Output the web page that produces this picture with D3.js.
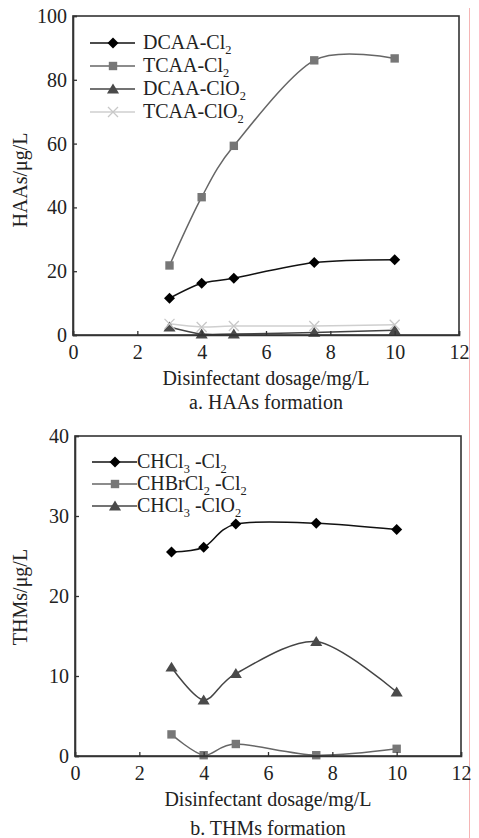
<!DOCTYPE html>
<html>
<head>
<meta charset="utf-8">
<script src="https://cdn.jsdelivr.net/npm/d3@7"></script>
<style>
  body { margin: 0; background: #fff; }
  svg { display: block; font-family: "Liberation Serif", "DejaVu Serif", serif; }
</style>
</head>
<body>
<svg id="chart" width="479" height="838"></svg>
<script>
// data
var dosage = [3, 4, 5, 7.5, 10];
var xTicks = [0, 2, 4, 6, 8, 10, 12];
var haaTicks = [0, 20, 40, 60, 80, 100];
var thmTicks = [0, 10, 20, 30, 40];

var dcaaCl2 = [11.5, 16.2, 17.8, 22.7, 23.6];
var tcaaCl2 = [21.8, 43.2, 59.3, 86.1, 86.7];
var dcaaClO2 = [2.5, 0.3, 0.3, 0.8, 1.5];
var tcaaClO2 = [3.5, 2.5, 2.8, 2.8, 3.2];

var chcl3Cl2 = [25.5, 26.1, 29.0, 29.1, 28.3];
var chbrcl2Cl2 = [2.7, 0.1, 1.5, 0.1, 0.9];
var chcl3ClO2 = [11.1, 7.0, 10.3, 14.3, 8.0];

var haaNames = ["DCAA-Cl_2", "TCAA-Cl_2", "DCAA-ClO_2", "TCAA-ClO_2"];
var thmNames = ["CHCl_3 -Cl_2", "CHBrCl_2 -Cl_2", "CHCl_3 -ClO_2"];

var svg = d3.select("#chart");

// the thin pink rule at the right edge of the scan
svg.append("line")
  .attr("x1", 469.5).attr("x2", 469.5)
  .attr("y1", 8).attr("y2", 838)
  .attr("stroke", "#f5b5b5").attr("stroke-width", 1);

function markerPath(shape, s) {
  if (shape == "diamond") return "M0," + (-s) + "L" + s + ",0L0," + s + "L" + (-s) + ",0Z";
  if (shape == "square") return "M" + (-s) + "," + (-s) + "h" + (2 * s) + "v" + (2 * s) + "h" + (-2 * s) + "Z";
  if (shape == "triangle") return "M0," + (-s) + "L" + (s * 1.1) + "," + (s * 0.8) + "L" + (-s * 1.1) + "," + (s * 0.8) + "Z";
  // cross
  return "M" + (-s) + "," + (-s) + "L" + s + "," + s + "M" + s + "," + (-s) + "L" + (-s) + "," + s;
}

function addMarker(g, shape, color, x, y) {
  var sz = { diamond: 5.5, square: 4.2, triangle: 5.5, cross: 5 }[shape];
  var p = g.append("path")
    .attr("transform", "translate(" + x + "," + y + ")")
    .attr("d", markerPath(shape, sz));
  if (shape == "cross")
    p.attr("fill", "none").attr("stroke", color).attr("stroke-width", 1.3);
  else
    p.attr("fill", color);
}

// text with "_2" style subscripts
function subText(sel, str, size) {
  var parts = str.split(/_(\d)/);
  parts.forEach(function(t, i) {
    if (t === "") return;
    if (i % 2 == 1) {
      sel.append("tspan").attr("dy", 5).attr("font-size", size * 0.62).text(t);
    } else {
      sel.append("tspan").attr("dy", i == 0 ? 0 : -5).text(t);
    }
  });
}

function drawPanel(cfg) {
  var x = d3.scaleLinear().domain([0, 12]).range([cfg.left, cfg.right]);
  var y = d3.scaleLinear().domain(cfg.yDomain).range([cfg.bottom, cfg.top]);
  var g = svg.append("g");

  // series lines + markers
  var line = d3.line()
    .x(function(d) { return x(d[0]); })
    .y(function(d) { return y(d[1]); })
    .curve(d3.curveCardinal.tension(0.1));

  cfg.series.forEach(function(s) {
    var pts = dosage.map(function(d, i) { return [d, s.values[i]]; });
    g.append("path")
      .attr("d", line(pts))
      .attr("fill", "none")
      .attr("stroke", s.line)
      .attr("stroke-width", 1.5);
  });
  cfg.series.forEach(function(s) {
    dosage.forEach(function(d, i) {
      addMarker(g, s.shape, s.color, x(d), y(s.values[i]));
    });
  });

  // frame
  g.append("rect")
    .attr("x", cfg.left).attr("y", cfg.top)
    .attr("width", cfg.right - cfg.left).attr("height", cfg.bottom - cfg.top)
    .attr("fill", "none").attr("stroke", "#333").attr("stroke-width", 1.6);

  // axes, ticks pointing inward
  var xAxis = d3.axisBottom(x).tickValues(xTicks).tickSize(-4).tickPadding(10).tickFormat(d3.format("d"));
  var yAxis = d3.axisLeft(y).tickValues(cfg.yTicks).tickSize(-4).tickPadding(6).tickFormat(d3.format("d"));

  var gx = g.append("g").attr("transform", "translate(0," + cfg.bottom + ")").call(xAxis);
  var gy = g.append("g").attr("transform", "translate(" + cfg.left + ",0)").call(yAxis);
  [gx, gy].forEach(function(a) {
    a.select(".domain").attr("stroke", "#333").attr("stroke-width", 1.6);
    a.selectAll(".tick line").attr("stroke", "#333").attr("stroke-width", 1.3);
    a.selectAll(".tick text")
      .attr("fill", "#222")
      .attr("font-size", 20)
      .attr("font-family", "Liberation Serif");
  });

  // axis titles
  g.append("text")
    .attr("x", (cfg.left + cfg.right) / 2).attr("y", cfg.bottom + 50)
    .attr("text-anchor", "middle").attr("font-size", 20).attr("fill", "#222")
    .text("Disinfectant dosage/mg/L");
  g.append("text")
    .attr("transform", "translate(27," + cfg.yTitleY + ") rotate(-90)")
    .attr("text-anchor", "middle").attr("font-size", 20).attr("fill", "#222")
    .text(cfg.yTitle);
  g.append("text")
    .attr("x", (cfg.left + cfg.right) / 2).attr("y", cfg.bottom + cfg.capOffset)
    .attr("text-anchor", "middle").attr("font-size", 20).attr("fill", "#222")
    .text(cfg.caption);

  // legend
  cfg.series.forEach(function(s, i) {
    var ly = cfg.legY[i];
    g.append("line")
      .attr("x1", cfg.legX).attr("x2", cfg.legX + 45)
      .attr("y1", ly).attr("y2", ly)
      .attr("stroke", s.line).attr("stroke-width", 1.5);
    addMarker(g, s.shape, s.color, cfg.legX + 23, ly);
    var t = g.append("text")
      .attr("x", cfg.legX + cfg.legTextDx).attr("y", ly + 6)
      .attr("font-size", 20).attr("fill", "#222");
    subText(t, s.name, 20);
  });
}

drawPanel({
  left: 73, right: 459, top: 16, bottom: 335,
  yDomain: [0, 100], yTicks: haaTicks,
  yTitle: "HAAs/\u03bcg/L", yTitleY: 180,
  caption: "a. HAAs formation", capOffset: 74,
  legX: 90, legTextDx: 53, legY: [43, 66, 89, 112],
  series: [
    { name: haaNames[0], values: dcaaCl2, shape: "diamond", color: "#000", line: "#111" },
    { name: haaNames[1], values: tcaaCl2, shape: "square", color: "#777", line: "#666" },
    { name: haaNames[2], values: dcaaClO2, shape: "triangle", color: "#4a4a4a", line: "#444" },
    { name: haaNames[3], values: tcaaClO2, shape: "cross", color: "#c8c8c8", line: "#cfcfcf" }
  ]
});

drawPanel({
  left: 75, right: 461, top: 436, bottom: 756,
  yDomain: [0, 40], yTicks: thmTicks,
  yTitle: "THMs/\u03bcg/L", yTitleY: 597,
  caption: "b. THMs formation", capOffset: 79,
  legX: 92, legTextDx: 45, legY: [462, 484, 506],
  series: [
    { name: thmNames[0], values: chcl3Cl2, shape: "diamond", color: "#000", line: "#111" },
    { name: thmNames[1], values: chbrcl2Cl2, shape: "square", color: "#777", line: "#666" },
    { name: thmNames[2], values: chcl3ClO2, shape: "triangle", color: "#4a4a4a", line: "#444" }
  ]
});
</script>
</body>
</html>
